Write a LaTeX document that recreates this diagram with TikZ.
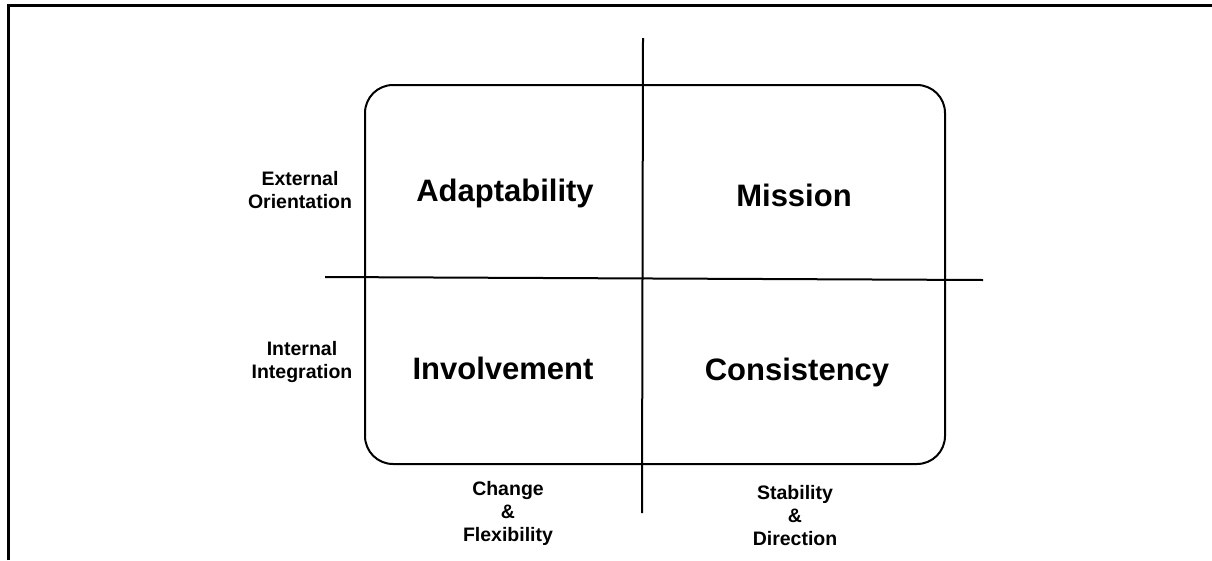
\documentclass[tikz,border=0pt]{standalone}
\usepackage{fontspec}
\setmainfont{Liberation Sans}
\begin{document}
\begin{tikzpicture}[x=1pt,y=-1pt,
  line/.style={line width=2pt,black},
  frame/.style={line width=3pt,black},
  big/.style={font=\bfseries\fontsize{31}{37}\selectfont,inner sep=0pt},
  small/.style={font=\bfseries\fontsize{19.5}{23}\selectfont,align=center,inner sep=0pt}]
\useasboundingbox (0,0) rectangle (1212,560);
\fill[white] (0,0) rectangle (1212,560);
% frame
\draw[frame] (8.5,560) -- (8.5,5.5) -- (1212,5.5);
% rounded box
\draw[line,rounded corners=28pt] (365,85) rectangle (945,464);
% axes
\coordinate (vtop) at (643,38);
\coordinate (vbot) at (642,513);
\coordinate (hleft) at (325,277);
\coordinate (hright) at (983,280);
\draw[line] (vtop) -- (vbot);
\draw[line] (hleft) -- (hright);
% quadrant labels
\node[big] (adapt) at (505,193) {Adaptability};
\node[big] (mission) at (794,195) {Mission};
\node[big] (invol) at (503,368) {Involvement};
\node[big] (consis) at (797,372) {Consistency};
% axis labels
\node[small] (ext) at (300,190) {External\\Orientation};
\node[small] (int) at (302,362) {Internal\\Integration};
\node[small] (chg) at (508,513) {Change\\\&\\Flexibility};
\node[small] (stab) at (795,516) {Stability\\\&\\Direction};
\end{tikzpicture}
\end{document}
